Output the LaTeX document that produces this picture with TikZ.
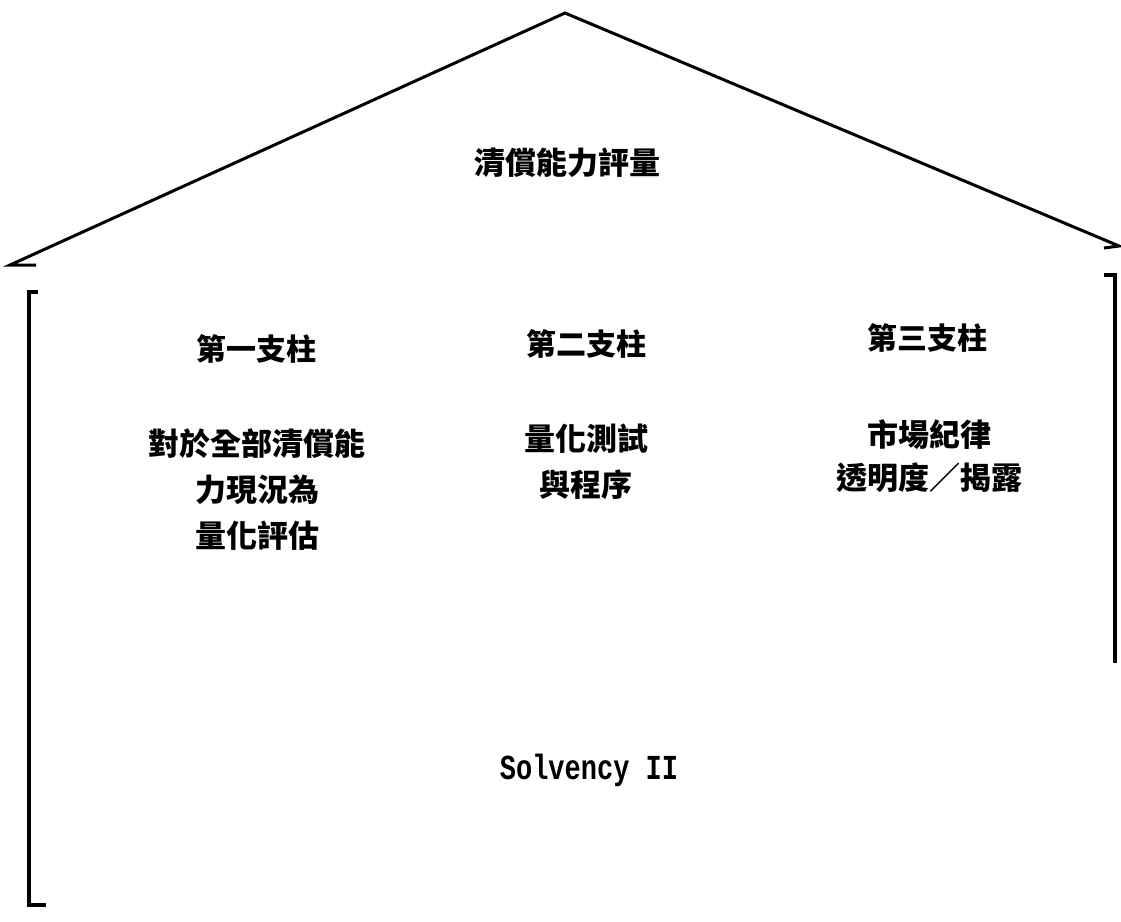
\documentclass[tikz,border=0pt]{standalone}
\usepackage{fontspec}
\usepackage{tikz}
\newfontfamily\cjk{Noto Sans CJK TC}
\newfontfamily\solfont{Liberation Mono}

\begin{document}
\begin{tikzpicture}[x=1pt, y=-1pt,
    title/.style={font=\cjk\bfseries\fontsize{31}{36}\selectfont, inner sep=0pt},
    head/.style={font=\cjk\bfseries\fontsize{30}{36}\selectfont, inner sep=0pt},
    body/.style={font=\cjk\bfseries\fontsize{31}{46}\selectfont, align=center, inner sep=0pt},
    frame/.style={line width=4pt, line join=miter}]
            \useasboundingbox (0, 0) rectangle (1121, 921);

            %Roof with its title.
            \draw[line width=3pt] (36, 265) -- (10, 265) -- (565, 13) -- (1119, 246) -- (1104, 248);
            \node (roof) at (567, 163) [title] {清償能力評量};

            %Walls of the house.
            \draw[frame] (38, 292) -- (29, 292) -- (29, 905) -- (46, 905);
            \draw[frame] (1104, 275) -- (1115, 275) -- (1115, 663);

            %Three pillars.
            \node (p1) at (256, 349) [head] {第一支柱};
            \node (p2) at (586, 344) [head] {第二支柱};
            \node (p3) at (927, 338) [head] {第三支柱};

            \node (t1) at (257, 490) [body] {對於全部清償能\\力現況為\\量化評估};
            \node (t2) at (586, 462) [body] {量化測試\\與程序};
            \node (t3) at (929, 456) [body, font=\cjk\bfseries\fontsize{31}{43}\selectfont] {市場紀律\\透明度／揭露};

            %Base.
            \node (sol) at (589, 770) [font=\solfont\bfseries\fontsize{27}{30}\selectfont, inner sep=0pt] {\scalebox{1}[1.3]{Solvency II}};
        \end{tikzpicture}
\end{document}
